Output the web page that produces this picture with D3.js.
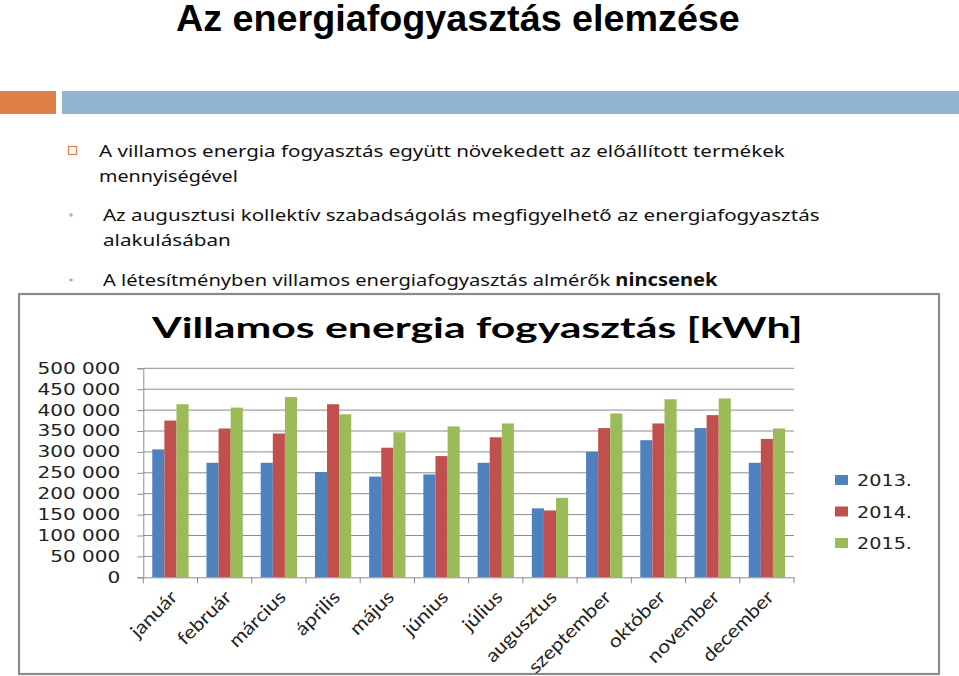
<!DOCTYPE html>
<html><head><meta charset="utf-8">
<script src="https://cdn.jsdelivr.net/npm/d3@7"></script>
<style>body{margin:0;background:#fff}svg{display:block}</style>
</head><body>
<script>
const months = ["január","február","március","április","május","június","július","augusztus","szeptember","október","november","december"];
const years = ["2013.","2014.","2015."];
const v2013 = [306000,274000,274000,252000,241000,246000,274000,165000,300000,328000,357000,274000];
const v2014 = [375000,356000,344000,414000,310000,290000,335000,160000,357000,368000,388000,331000];
const v2015 = [414000,406000,431000,390000,347000,361000,368000,190000,392000,426000,428000,356000];
const yTicks = [0,50000,100000,150000,200000,250000,300000,350000,400000,450000,500000];
const colors = ["#4F81BD","#C0504D","#9BBB59"];
const pageTitle = "Az energiafogyasztás elemzése";
const chartTitle = "Villamos energia fogyasztás [kWh]";

const W = 959, H = 676;
const svg = d3.select("body").append("svg").attr("width", W).attr("height", H);

// place text at (x,y) with given font size, stretched horizontally to target width
function stretch(sel, x, y, target, size) {
  sel.attr("x", 0).attr("y", 0).style("font-size", size + "px");
  const w = sel.node().getComputedTextLength();
  sel.attr("transform", `translate(${x},${y}) scale(${(target / w).toFixed(4)},1)`);
  return sel;
}

// page title
stretch(svg.append("text")
  .attr("font-family", "Liberation Sans, Arial, sans-serif").attr("font-weight", "bold")
  .attr("fill", "#000").text(pageTitle), 176, 31, 564, 36);

// header bars
svg.append("rect").attr("x", 0).attr("y", 91).attr("width", 56).attr("height", 23).attr("fill", "#E07F48");
svg.append("rect").attr("x", 62).attr("y", 91).attr("width", W - 62).attr("height", 23).attr("fill", "#93B4D2");

// bullets
svg.append("rect").attr("x", 68.5).attr("y", 146.5).attr("width", 8).attr("height", 8)
  .attr("fill", "none").attr("stroke", "#E07F48").attr("stroke-width", 1.3);
[215, 280].forEach(y => svg.append("circle").attr("cx", 71).attr("cy", y).attr("r", 1.8).attr("fill", "#A9B4C2"));

const bf = "Noto Sans, DejaVu Sans, sans-serif";
const lines = [
  {x: 99, y: 157, t: "A villamos energia fogyasztás együtt növekedett az előállított termékek", w: 686},
  {x: 99, y: 182, t: "mennyiségével", w: 139},
  {x: 103, y: 221, t: "Az augusztusi kollektív szabadságolás megfigyelhető az energiafogyasztás", w: 717},
  {x: 103, y: 246, t: "alakulásában", w: 128}
];
lines.forEach(l => stretch(svg.append("text").attr("font-family", bf)
  .attr("fill", "#111").text(l.t), l.x, l.y, l.w, 17));
const l5 = svg.append("text").attr("font-family", bf).attr("fill", "#111");
l5.append("tspan").text("A létesítményben villamos energiafogyasztás almérők ");
l5.append("tspan").attr("font-weight", "bold").text("nincsenek");
stretch(l5, 103, 286, 615, 17);

// chart frame
svg.append("rect").attr("x", 19).attr("y", 294).attr("width", 920).attr("height", 380)
  .attr("fill", "#fff").attr("stroke", "#8a8a8a").attr("stroke-width", 2.2);

// chart title
stretch(svg.append("text")
  .attr("font-family", "Lato, Liberation Sans, sans-serif").attr("font-weight", "bold")
  .attr("fill", "#000").text(chartTitle), 152, 338, 651, 28);

const x0 = 143.3, x1 = 794, yB = 577.3, yT = 368.3;
const x = d3.scaleBand().domain(months).range([x0, x1]).padding(0);
const xs = d3.scaleBand().domain(years).range([0, x.bandwidth()]).paddingInner(0).paddingOuter(0.74);
const y = d3.scaleLinear().domain([0, 500000]).range([yB, yT]);
const loc = d3.formatLocale({decimal: ",", thousands: " ", grouping: [3], currency: ["", ""]});
const fmt = loc.format(",");

// gridlines
svg.append("g").selectAll("line").data(yTicks.filter(d => d > 0)).join("line")
  .attr("x1", x0).attr("x2", x1).attr("y1", d => y(d)).attr("y2", d => y(d))
  .attr("stroke", "#8c8c8c").attr("stroke-width", 1);

// bars
const series = [v2013, v2014, v2015];
const g = svg.append("g");
series.forEach((vals, si) => {
  g.selectAll(null).data(vals).join("rect")
    .attr("x", (d, i) => x(months[i]) + xs(years[si]))
    .attr("width", xs.bandwidth())
    .attr("y", d => y(d)).attr("height", d => yB - y(d))
    .attr("fill", colors[si]);
});

// y axis
const ya = svg.append("g").attr("transform", `translate(${x0},0)`)
  .call(d3.axisLeft(y).tickValues(yTicks).tickFormat(fmt).tickSize(6).tickPadding(17));
ya.select(".domain").attr("stroke", "#8c8c8c");
ya.selectAll(".tick line").attr("stroke", "#8c8c8c");
const yt = ya.selectAll("text").attr("font-family", "DejaVu Sans, sans-serif").attr("fill", "#222").style("font-size", "15.5px");
{
  const n = yt.filter(d => d === 500000).node();
  const k = 83 / n.getComputedTextLength();
  yt.attr("x", -23 / k).attr("transform", `scale(${k.toFixed(4)},1)`);
}

// x axis
const xa = svg.append("g").attr("transform", `translate(0,${yB})`)
  .call(d3.axisBottom(x).tickSize(0).tickFormat(""));
xa.select(".domain").attr("stroke", "#8c8c8c");
svg.append("g").selectAll("line").data(months.concat(["end"])).join("line")
  .attr("x1", (d, i) => x0 + i * x.step()).attr("x2", (d, i) => x0 + i * x.step())
  .attr("y1", yB).attr("y2", yB + 6).attr("stroke", "#8c8c8c");
const xl = svg.append("g").selectAll("text").data(months).join("text")
  .attr("text-anchor", "end").attr("font-family", "Lato, Liberation Sans, sans-serif")
  .style("font-size", "18.5px").attr("fill", "#222").text(d => d);
{
  const n = xl.filter(d => d === "szeptember").node();
  const k = 108 / n.getComputedTextLength();
  xl.attr("transform", d => `translate(${x(d) + x.bandwidth() / 2 + 8},${yB + 21}) rotate(-45) scale(${k.toFixed(4)},1)`);
}

// legend
const lg = svg.append("g");
years.forEach((yr, i) => {
  const cy = 480 + i * 31.5;
  lg.append("rect").attr("x", 835).attr("y", cy - 5).attr("width", 13).attr("height", 10).attr("fill", colors[i]);
  stretch(lg.append("text").attr("font-family", "DejaVu Sans, sans-serif")
    .attr("fill", "#222").text(yr), 857, cy + 6, 55, 15.5);
});
</script>
</body></html>
